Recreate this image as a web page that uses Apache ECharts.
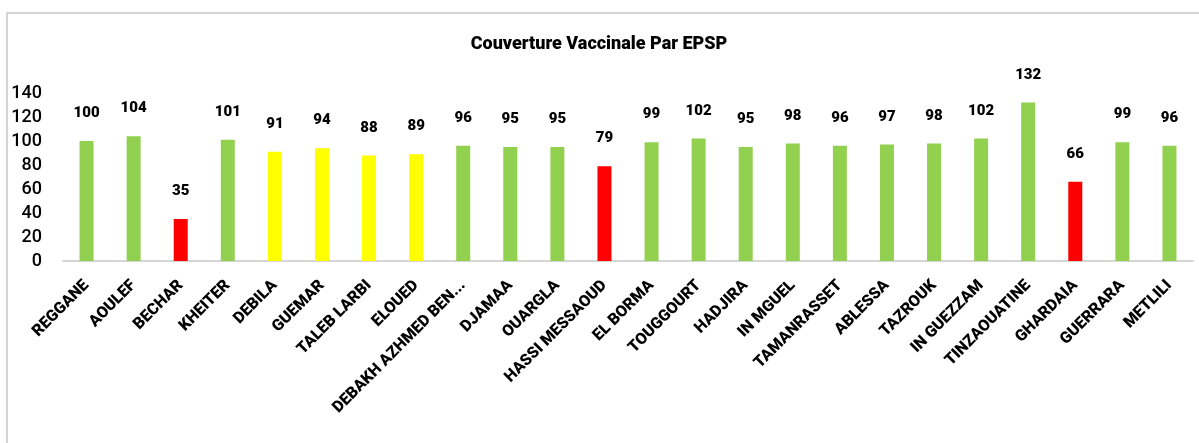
<!DOCTYPE html>
<html>
<head>
<meta charset="utf-8">
<script src="https://cdn.jsdelivr.net/npm/echarts@6/dist/echarts.min.js"></script>
<style>
  html, body { margin: 0; padding: 0; background: #fff; }
  #chart { width: 1199px; height: 443px; }
</style>
</head>
<body>
<div id="chart"></div>
<script>
// EPSP names as printed under the bars
const categories = [
  'REGGANE', 'AOULEF', 'BECHAR', 'KHEITER', 'DEBILA', 'GUEMAR', 'TALEB LARBI', 'ELOUED',
  'DEBAKH AZHMED BEN...', 'DJAMAA', 'OUARGLA', 'HASSI MESSAOUD', 'EL BORMA', 'TOUGGOURT',
  'HADJIRA', 'IN MGUEL', 'TAMANRASSET', 'ABLESSA', 'TAZROUK', 'IN GUEZZAM', 'TINZAOUATINE',
  'GHARDAIA', 'GUERRARA', 'METLILI',
];
// couverture vaccinale (%)
const couverture = [
  100, 104, 35, 101, 91, 94, 88, 89,
  96, 95, 95, 79, 99, 102,
  95, 98, 96, 97, 98, 102, 132,
  66, 99, 96,
];
const yTicks = [0, 20, 40, 60, 80, 100, 120, 140];

const font = 'Roboto, "DejaVu Sans", sans-serif';
const gras = 900;

// couleur selon le seuil : >=95 vert, >=80 jaune, sinon rouge
const couleur = v => (v >= 95 ? '#92D050' : v >= 80 ? '#FFFF00' : '#FF0000');

const chart = echarts.init(document.getElementById('chart'));
const option = {
  backgroundColor: '#fff',
  animation: false,
  title: {
    text: 'Couverture Vaccinale Par EPSP',
    left: 594,
    textAlign: 'center',
    top: 30,
    textStyle: { fontFamily: font, fontSize: 18, fontWeight: gras, color: '#000' },
  },
  graphic: [
    {
      type: 'rect',
      shape: { x: 7, y: 13, width: 1300, height: 500 },
      style: { fill: 'none', stroke: '#d4d4d4', lineWidth: 2 },
      silent: true,
    },
  ],
  grid: { left: 63, right: 6, top: 93, bottom: 182, containLabel: false },
  xAxis: {
    type: 'category',
    data: categories,
    axisLine: { lineStyle: { color: '#c8c8c8', width: 1.5 } },
    axisTick: { show: false },
    axisLabel: {
      rotate: 45,
      interval: 0,
      margin: 22,
      fontFamily: font,
      fontSize: 16,
      fontWeight: gras,
      color: '#000',
    },
  },
  yAxis: {
    type: 'value',
    min: yTicks[0],
    max: yTicks[yTicks.length - 1],
    interval: 20,
    splitLine: { show: false },
    axisLine: { show: false },
    axisTick: { show: false },
    axisLabel: {
      margin: 21,
      fontFamily: font,
      fontSize: 18,
      fontWeight: 500,
      color: '#000',
    },
  },
  series: [
    {
      type: 'bar',
      barWidth: 14,
      data: couverture.map(v => ({ value: v, itemStyle: { color: couleur(v) } })),
      label: {
        show: true,
        position: 'top',
        distance: 20,
        fontFamily: font,
        fontSize: 15,
        fontWeight: gras,
        color: '#000',
      },
    },
  ],
};
chart.setOption(option);
window.onresize = function() {
  chart.resize();
};
</script>
</body>
</html>
